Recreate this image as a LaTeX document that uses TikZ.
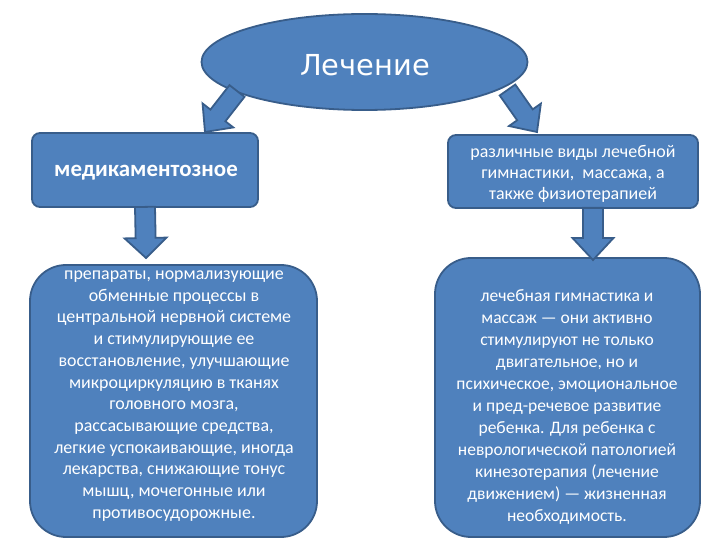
\documentclass[tikz,border=0pt]{standalone}
\usepackage{fontspec}
\setmainfont{Carlito}
\newfontfamily\titlefont{DejaVu Sans}
\usetikzlibrary{calc,shapes.geometric}
\definecolor{boxfill}{HTML}{4F81BD}
\definecolor{boxline}{HTML}{385D8A}
\tikzset{
  shapestyle/.style={fill=boxfill, draw=boxline, line width=1.8bp},
  topbox/.style={shapestyle, rectangle, rounded corners=8bp, inner sep=0pt},
  bigbox/.style={shapestyle, rectangle, rounded corners=36bp, inner sep=0pt},
  boxtext/.style={text=white, align=center, inner sep=0pt},
  blockarrow/.style={shapestyle, line join=miter},
}
\newcommand\blockarr[5]{%
  \coordinate (hb) at ($(#2)!#5!(#1)$);
  \draw[blockarrow] ($(#1)!#3!90:(#2)$) -- ($(hb)!#3!90:(#2)$) -- ($(hb)!#4!90:(#2)$) -- (#2)
    -- ($(hb)!#4!-90:(#2)$) -- ($(hb)!#3!-90:(#2)$) -- ($(#1)!#3!-90:(#2)$) -- cycle;}
\begin{document}
\begin{tikzpicture}[x=1bp,y=-1bp]
\path[use as bounding box, fill=white] (0,0) rectangle (720,540);

% root ellipse
\node[ellipse, shapestyle, minimum width=326bp, minimum height=96bp, inner sep=0pt] (root) at (364.5,62) {};
\node[boxtext, font=\titlefont\fontsize{29}{34}\selectfont] (roottext) at (365,65) {Лечение};

% top boxes
\node[topbox, minimum width=226bp, minimum height=74bp] (left) at (145,170) {};
\node[boxtext, font=\bfseries\fontsize{23}{26}\selectfont] (lefttext) at (146,173) {медикаментозное};

\node[topbox, minimum width=250bp, minimum height=73bp] (right) at (573,171.5) {};
\node[boxtext, font=\fontsize{18}{21}\selectfont] (righttext) at (573,174)
  {различные виды лечебной\\гимнастики,\ \ массажа, а\\также физиотерапией};

% big boxes
\node[bigbox, minimum width=287bp, minimum height=272bp] (leftbig) at (173.5,401) {};
\node[boxtext, font=\fontsize{18}{21.8}\selectfont] (leftbigtext) at (174,396)
  {препараты, нормализующие\\обменные процессы в\\центральной нервной системе\\и стимулирующие ее\\восстановление, улучшающие\\микроциркуляцию в тканях\\головного мозга,\\рассасывающие средства,\\легкие успокаивающие, иногда\\лекарства, снижающие тонус\\мышц, мочегонные или\\противосудорожные.};

\node[bigbox, minimum width=265bp, minimum height=279bp] (rightbig) at (567.5,397.5) {};
\node[boxtext, font=\fontsize{17.6}{22}\selectfont] (rightbigtext) at (567,407)
  {лечебная гимнастика и\\массаж — они активно\\стимулируют не только\\двигательное, но и\\психическое, эмоциональное\\и пред-речевое развитие\\ребенка. Для ребенка с\\неврологической патологией\\кинезотерапия (лечение\\движением) — жизненная\\необходимость.};

% arrow anchor points
\coordinate (la0) at (237,91);
\coordinate (la1) at (205,132);
\coordinate (ra0) at (507.5,90);
\coordinate (ra1) at (537,132);
\coordinate (ld0) at ($(left.south)+(0,-1)$);
\coordinate (ld1) at (146,258);
\coordinate (rd0) at ($(right.south)+(20,-1)$);
\coordinate (rd1) at (593,260);

\blockarr{la0}{la1}{9.5bp}{19.5bp}{21bp}
\blockarr{ra0}{ra1}{9.5bp}{19.5bp}{21bp}
\blockarr{ld0}{ld1}{10bp}{21bp}{20bp}
\blockarr{rd0}{rd1}{10bp}{20.5bp}{22bp}
\end{tikzpicture}
\end{document}
